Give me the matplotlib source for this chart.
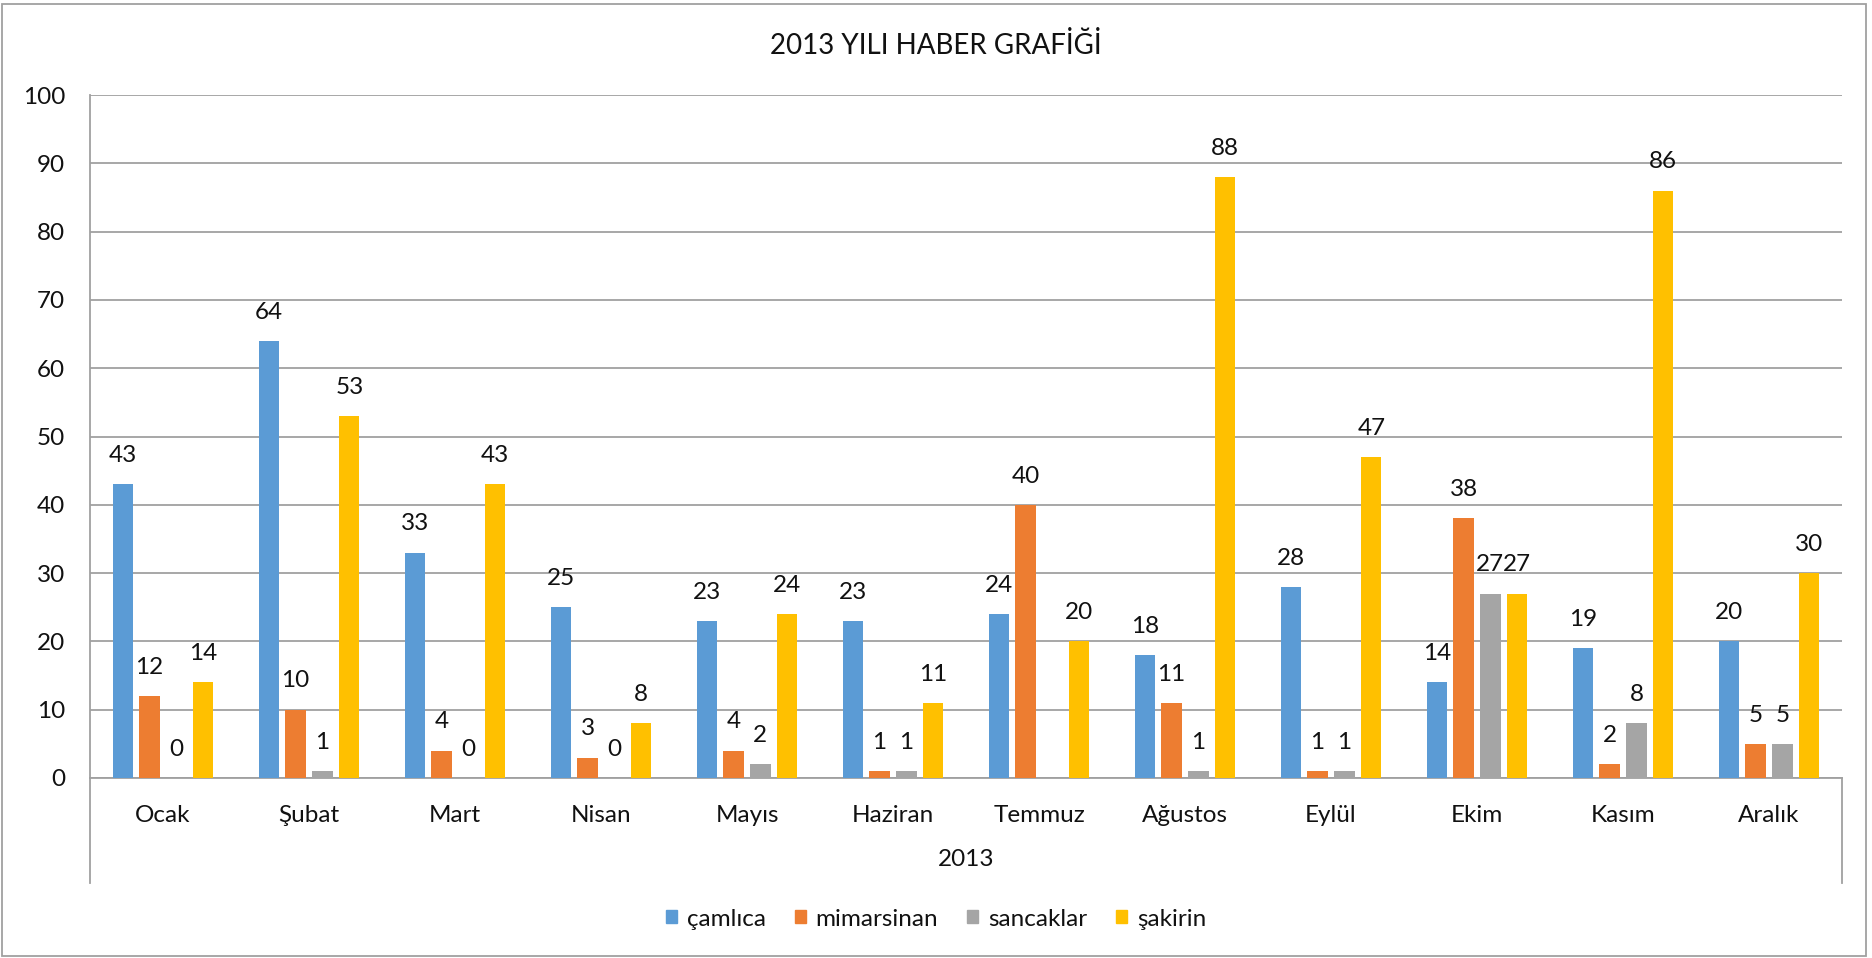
import numpy as np
import matplotlib
matplotlib.use('Agg')
import matplotlib.pyplot as plt
from matplotlib.patches import Rectangle
from matplotlib.lines import Line2D
import matplotlib.transforms as mtransforms

plt.rcParams['font.family'] = ['Lato', 'DejaVu Sans']

# data
months = ["Ocak", "Şubat", "Mart", "Nisan", "Mayıs", "Haziran",
          "Temmuz", "Ağustos", "Eylül", "Ekim", "Kasım", "Aralık"]
camlica = [43, 64, 33, 25, 23, 23, 24, 18, 28, 14, 19, 20]
mimarsinan = [12, 10, 4, 3, 4, 1, 40, 11, 1, 38, 2, 5]
sancaklar = [0, 1, 0, 0, 2, 1, np.nan, 1, 1, 27, 8, 5]
sakirin = [14, 53, 43, 8, 24, 11, 20, 88, 47, 27, 86, 30]
series_names = ["çamlıca", "mimarsinan", "sancaklar", "şakirin"]
colors = ["#5B9BD5", "#ED7D31", "#A5A5A5", "#FFC000"]

W, H = 1872, 958
txt = "#111111"
fig = plt.figure(figsize=(W / 100, H / 100), dpi=100)

left, right, top, bottom = 90, 1842, 95, 778
ax = fig.add_axes([left / W, 1 - bottom / H, (right - left) / W, (bottom - top) / H])

x = np.arange(len(months))
bar_w = 0.138
step = 0.184
all_series = [camlica, mimarsinan, sancaklar, sakirin]
for i, (vals, name, c) in enumerate(zip(all_series, series_names, colors)):
    pos = x + (i - 1.5) * step
    v = np.array(vals, dtype=float)
    ok = ~np.isnan(v)
    ax.bar(pos[ok], v[ok], width=bar_w, color=c, label=name, zorder=3)
    for px, pv in zip(pos[ok], v[ok]):
        ax.annotate(f"{int(pv)}", (px, pv), xytext=(0, 16), textcoords="offset points",
                    ha="center", va="baseline", fontsize=17.5, color=txt)

ax.set_xlim(-0.5, len(months) - 0.5)
ax.set_ylim(0, 100)
ax.set_yticks(range(0, 101, 10))
ax.tick_params(axis="y", length=0, pad=18, labelsize=17.5, labelcolor=txt)
ax.set_xticks([])
ax.grid(axis="y", color="#A0A0A0", linewidth=1.3, zorder=0)
for s in ["top", "right"]:
    ax.spines[s].set_visible(False)
ax.spines["left"].set_color("#A0A0A0")
ax.spines["bottom"].set_color("#A0A0A0")
ax.spines["left"].set_linewidth(1.3)
ax.spines["bottom"].set_linewidth(1.3)

# category labels and multi-level axis
trans = mtransforms.blended_transform_factory(ax.transData, fig.transFigure)
for xi, m in zip(x, months):
    ax.text(xi, 1 - 815 / H, m, transform=trans, ha="center", va="center",
            fontsize=17.5, color=txt)
fig.text((left + right) / 2 / W, 1 - 860 / H, "2013", ha="center", va="center",
         fontsize=17.5, color=txt)
for xv in (left, right):
    fig.add_artist(Line2D([xv / W, xv / W], [1 - bottom / H, 1 - 883 / H],
                          color="#A0A0A0", linewidth=1.3))

fig.text(0.5, 1 - 45 / H, "2013 YILI HABER GRAFİĞİ", ha="center", va="center",
         fontsize=20, color=txt)

handles = [Rectangle((0, 0), 1, 1, color=c) for c in colors]
fig.legend(handles, series_names, loc="center", bbox_to_anchor=(0.5, 1 - 919 / H),
           ncol=4, frameon=False, fontsize=17.5, handlelength=0.45, handleheight=0.45,
           handletextpad=0.4, columnspacing=1.2, labelcolor=txt)

fig.add_artist(Rectangle((2 / W, 2 / H), (W - 8) / W, (H - 6) / H, fill=False,
                         edgecolor="#A0A0A0", linewidth=1.3, transform=fig.transFigure))

fig.savefig("out.png", dpi=100)
